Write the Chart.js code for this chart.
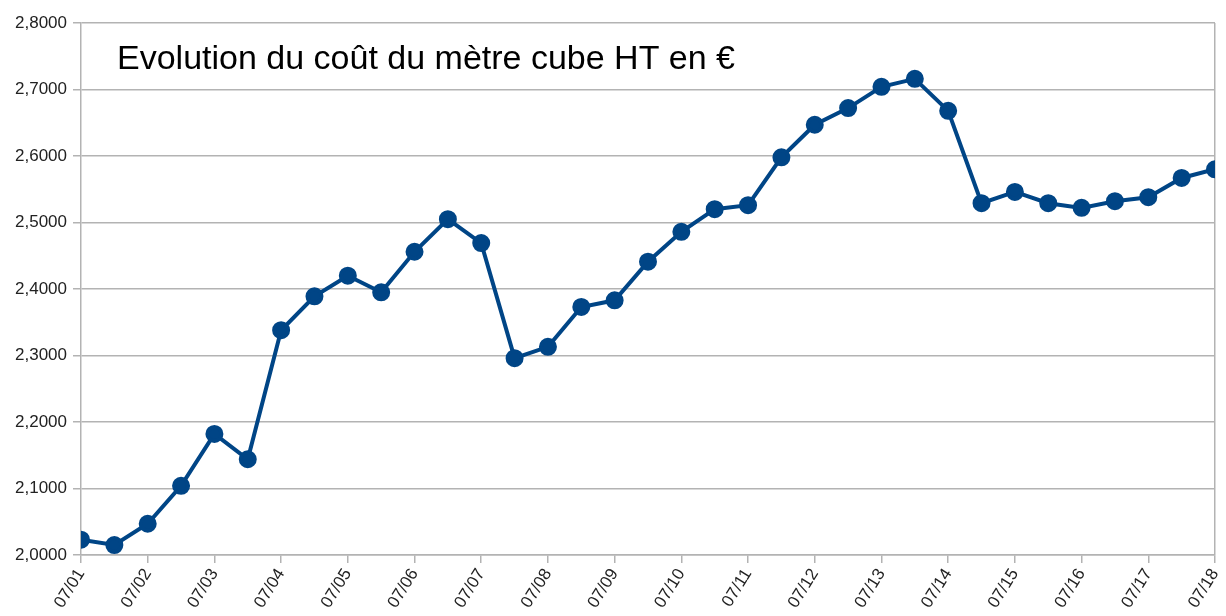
<!DOCTYPE html>
<html>
<head>
<meta charset="utf-8">
<script src="https://cdn.jsdelivr.net/npm/chart.js@4"></script>
<style>
  html, body { margin: 0; padding: 0; background: #fff; }
  #wrap { width: 1226px; height: 616px; }
</style>
</head>
<body>
<div id="wrap"><canvas id="myChart" width="1226" height="616"></canvas></div>
<script>
// Étiquettes de l'axe X (une par année)
const years = ["07/01", "07/02", "07/03", "07/04", "07/05", "07/06", "07/07", "07/08", "07/09",
  "07/10", "07/11", "07/12", "07/13", "07/14", "07/15", "07/16", "07/17", "07/18"];

// Coût du mètre cube, deux relevés par an
const cost = [2.023, 2.015, 2.047, 2.104, 2.182, 2.144, 2.338, 2.389, 2.420, 2.395,
  2.456, 2.505, 2.469, 2.296, 2.313, 2.373, 2.383, 2.441, 2.486, 2.520,
  2.526, 2.598, 2.647, 2.672, 2.704, 2.716, 2.668, 2.529, 2.546, 2.529,
  2.522, 2.532, 2.538, 2.567, 2.580];

// Graduations de l'axe Y
const yMin = 2.0;
const yMax = 2.8;
const yStep = 0.1;

const titleText = "Evolution du coût du mètre cube HT en €";

const gridGrey = "#b3b3b3";
const fontFamily = "'Liberation Sans', Arial, sans-serif";

// Titre dessiné dans la zone du graphique
const titleInside = {
  id: "titleInside",
  afterDraw(chart) {
    const c = chart.ctx;
    const area = chart.chartArea;
    c.save();
    c.font = "34px " + fontFamily;
    c.fillStyle = "#000";
    c.textBaseline = "alphabetic";
    c.fillText(titleText, area.left + 36, area.top + 46);
    c.restore();
  }
};

const ctx = document.getElementById("myChart").getContext("2d");

const chart = new Chart(ctx, {
  type: "line",
  data: {
    datasets: [{
      label: "Coût",
      data: cost.map((v, i) => ({ x: i / 2, y: v })),
      borderColor: "#004586",
      backgroundColor: "#004586",
      borderWidth: 4,
      pointRadius: 7,
      pointHoverRadius: 7,
      tension: 0
    }]
  },
  options: {
    responsive: false,
    animation: false,
    layout: { padding: { top: 23, right: 9, left: 0, bottom: 0 } },
    plugins: {
      legend: { display: false },
      tooltip: { enabled: false }
    },
    scales: {
      x: {
        type: "linear",
        min: 0,
        max: years.length - 1,
        afterFit(scale) {
          scale.height = 61;
          scale.paddingLeft = 0;
          scale.paddingRight = 0;
        },
        ticks: {
          stepSize: 1,
          autoSkip: false,
          minRotation: 58,
          maxRotation: 58,
          padding: 2,
          color: "#222",
          font: { family: fontFamily, size: 17 },
          callback: (v) => years[v]
        },
        grid: {
          drawOnChartArea: true,
          color: (c) => (c.index === years.length - 1 ? gridGrey : "transparent"),
          tickColor: gridGrey,
          tickLength: 8,
          lineWidth: 1.5
        },
        border: { color: gridGrey, width: 1.5 }
      },
      y: {
        min: yMin,
        max: yMax,
        afterFit(scale) { scale.width = 81; },
        ticks: {
          stepSize: yStep,
          padding: 6,
          color: "#222",
          font: { family: fontFamily, size: 17 },
          callback: (v) => v.toFixed(4).replace(".", ",")
        },
        grid: {
          color: gridGrey,
          tickColor: gridGrey,
          tickLength: 8,
          lineWidth: 1.5
        },
        border: { color: gridGrey, width: 1.5 }
      }
    }
  },
  plugins: [titleInside]
});
</script>
</body>
</html>
